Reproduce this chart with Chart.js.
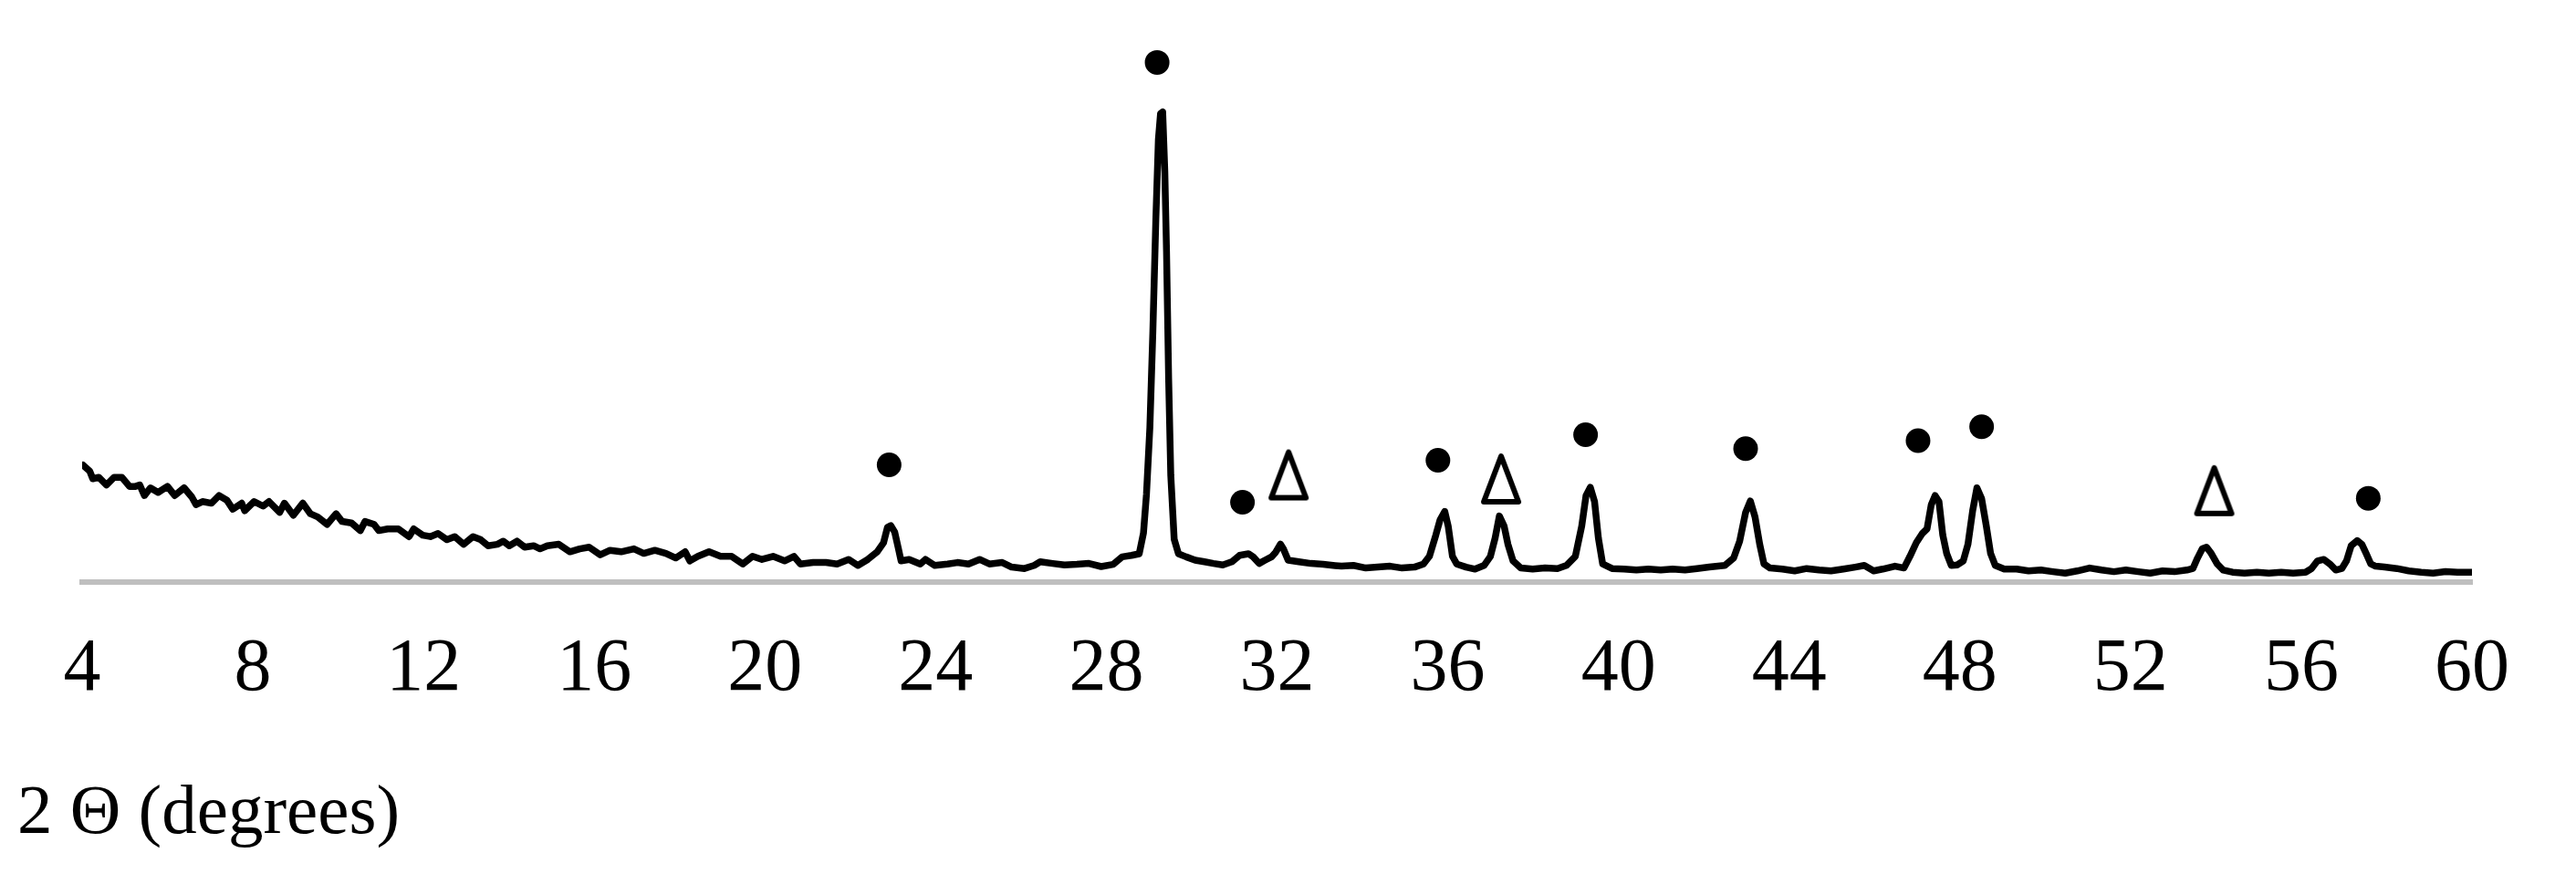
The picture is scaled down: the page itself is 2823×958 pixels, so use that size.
<!DOCTYPE html>
<html>
<head>
<meta charset="utf-8">
<title>XRD pattern</title>
<script src="https://cdn.jsdelivr.net/npm/chart.js@4.4.1/dist/chart.umd.min.js"></script>
<style>
  html, body { margin: 0; padding: 0; background: #fff; }
  #wrap { width: 2823px; height: 958px; }
</style>
</head>
<body>
<div id="wrap"><canvas id="xrd" width="2823" height="958"></canvas></div>
<script>
// 2 theta (degrees) and intensity (counts)
const twoTheta = [
  4.02, 4.18, 4.25, 4.39, 4.57, 4.75, 4.93, 5.11, 5.25, 5.35, 5.46, 5.60, 5.78, 6.00, 6.17, 6.39, 6.57, 6.67, 6.82, 7.03,
  7.21, 7.39, 7.53, 7.74, 7.81, 8.03, 8.24, 8.38, 8.63, 8.74, 8.95, 9.17, 9.35, 9.52, 9.74, 9.95, 10.09, 10.31, 10.52, 10.63,
  10.84, 10.95, 11.16, 11.41, 11.66, 11.77, 11.98, 12.16, 12.34, 12.55, 12.73, 12.94, 13.16, 13.34, 13.51, 13.73, 13.87, 14.01, 14.19, 14.37,
  14.58, 14.73, 14.90,
  15.17, 15.43, 15.66, 15.88, 16.14, 16.37, 16.63, 16.93, 17.16, 17.42, 17.68, 17.91, 18.13, 18.24, 18.43, 18.69, 18.96, 19.22, 19.48, 19.71,
  19.93, 20.19, 20.46, 20.68, 20.83, 21.13, 21.43, 21.69, 21.96, 22.18, 22.41, 22.63, 22.78, 22.87, 22.95, 23.04, 23.12, 23.19, 23.38, 23.64,
  23.76, 23.98, 24.28, 24.51, 24.77, 25.03, 25.26, 25.56, 25.78, 26.08, 26.31,
  26.45, 26.74, 27.02, 27.31, 27.59, 27.88, 28.16, 28.37, 28.59, 28.77, 28.87, 28.94, 29.02, 29.09, 29.16, 29.22, 29.27, 29.32, 29.37, 29.41,
  29.46, 29.51, 29.59, 29.69, 29.87, 30.08, 30.30, 30.51, 30.73, 30.94, 31.12, 31.33, 31.44, 31.58, 31.72, 31.87, 31.97, 32.08, 32.15, 32.26,
  32.51, 32.79, 33.08, 33.36,
  33.51, 33.79, 34.08, 34.36, 34.65, 34.93, 35.22, 35.43, 35.57, 35.72, 35.82, 35.93, 36.01, 36.11, 36.21, 36.43, 36.64, 36.85, 37.00, 37.11,
  37.21, 37.32, 37.41, 37.53, 37.71, 37.99, 38.28, 38.57, 38.78, 38.99, 39.14, 39.24, 39.34, 39.44, 39.53, 39.63, 39.85, 40.13, 40.42, 40.70,
  40.99, 41.27, 41.56, 41.84, 42.13, 42.49, 42.70, 42.84, 42.98, 43.09, 43.20, 43.31, 43.41, 43.55,
  43.84, 44.13, 44.41, 44.70, 44.98, 45.27, 45.55, 45.76, 45.98, 46.19, 46.48, 46.69, 46.83, 46.98, 47.12, 47.23, 47.33, 47.42, 47.51, 47.60,
  47.69, 47.80, 47.94, 48.08, 48.19, 48.30, 48.40, 48.51, 48.62, 48.72, 48.83, 49.04, 49.33, 49.61, 49.90, 50.18, 50.47, 50.75, 51.04, 51.32,
  51.61, 51.89, 52.18, 52.46, 52.75, 53.03, 53.32,
  53.46, 53.57, 53.68, 53.78, 53.89, 54.03, 54.17, 54.39, 54.67, 54.96, 55.24, 55.53, 55.81, 56.10, 56.24, 56.38, 56.53, 56.67, 56.81, 56.95,
  57.06, 57.17, 57.31, 57.42, 57.52, 57.63, 57.74, 57.95, 58.24, 58.52, 58.81, 59.09, 59.38, 59.66, 60.00
];
const intensity = [
  642, 608, 567, 575, 533, 575, 575, 525, 525, 533, 475, 517, 492, 525, 475, 517, 467, 425, 442, 433,
  475, 450, 400, 433, 392, 442, 417, 442, 383, 433, 367, 433, 375, 358, 317, 375, 333, 325, 283, 333,
  317, 283, 292, 292, 250, 292, 258, 250, 267, 233, 250, 208, 250, 233, 200, 208, 225, 200, 225, 192,
  200, 183, 200,
  208, 167, 183, 192, 150, 175, 167, 183, 158, 175, 158, 133, 167, 117, 142, 167, 142, 142, 100, 142,
  125, 142, 117, 142, 100, 108, 108, 100, 125, 92, 125, 167, 217, 300, 310, 275, 192, 117, 125, 100,
  125, 92, 100, 108, 100, 125, 100, 108, 83, 75, 92,
  112, 103, 95, 98, 103, 86, 98, 139, 147, 156, 270, 481, 849, 1375, 1989, 2428, 2568, 2577, 2252, 1814,
  1112, 586, 235, 156, 139, 121, 112, 103, 95, 112, 147, 156, 139, 103, 121, 139, 165, 209, 182, 121,
  112, 103, 98, 91,
  88, 92, 78, 83, 88, 78, 83, 100, 142, 258, 342, 388, 308, 142, 100, 83, 72, 92, 142, 242,
  363, 308, 208, 117, 78, 72, 78, 75, 92, 142, 308, 475, 520, 442, 242, 100, 75, 72, 67, 72,
  67, 72, 67, 75, 83, 92, 133, 225, 383, 445, 358, 208, 100, 78,
  72, 62, 75, 67, 62, 72, 83, 92, 62, 72, 88, 78, 142, 217, 267, 292, 425, 475, 442, 258,
  158, 92, 95, 117, 208, 392, 517, 458, 308, 158, 92, 72, 72, 62, 67, 58, 50, 62, 78, 67,
  58, 67, 58, 50, 62, 58, 67,
  75, 133, 183, 192, 158, 100, 67, 55, 50, 55, 50, 55, 50, 55, 75, 117, 125, 100, 67, 75,
  117, 200, 228, 208, 158, 100, 88, 83, 75, 62, 55, 50, 58, 55, 55
];

// phase markers above the peaks
const circleX = [22.91, 29.19, 31.19, 35.77, 39.23, 42.98, 47.02, 48.51, 57.57];
const circleY = [643, 2848, 438, 668, 808, 732, 776, 852, 460];
const deltaX = [32.27, 37.25, 53.96];
const deltaY = [588, 566, 502];

const xTickValues = [4, 8, 12, 16, 20, 24, 28, 32, 36, 40, 44, 48, 52, 56, 60];
const axisTitle = '2 Θ (degrees)';

// open triangle marker (like the Δ sign in the figure)
function makeDelta() {
  const c = document.createElement('canvas');
  c.width = 48; c.height = 58;
  const g = c.getContext('2d');
  g.strokeStyle = '#000';
  g.lineWidth = 6;
  g.lineJoin = 'round';
  g.beginPath();
  g.moveTo(24, 4);
  g.lineTo(43, 54);
  g.lineTo(5, 54);
  g.closePath();
  g.stroke();
  return c;
}

const serif = "'Liberation Serif', 'Times New Roman', serif";

new Chart(document.getElementById('xrd'), {
  type: 'scatter',
  data: {
    datasets: [
      {
        label: 'circles',
        data: circleX.map((x, i) => ({ x: x, y: circleY[i] })),
        pointStyle: 'circle',
        pointRadius: 13.5,
        backgroundColor: '#000',
        borderWidth: 0,
        showLine: false,
        clip: false,
        order: 0
      },
      {
        label: 'deltas',
        data: deltaX.map((x, i) => ({ x: x, y: deltaY[i] })),
        pointStyle: makeDelta(),
        pointRadius: 24,
        showLine: false,
        clip: false,
        order: 1
      },
      {
        label: 'XRD',
        data: twoTheta.map((x, i) => ({ x: x, y: intensity[i] })),
        showLine: true,
        borderColor: '#000',
        borderWidth: 7.5,
        borderJoinStyle: 'round',
        borderCapStyle: 'round',
        tension: 0,
        pointRadius: 0,
        order: 2
      }
    ]
  },
  options: {
    responsive: false,
    animation: false,
    events: [],
    layout: { padding: { left: 19, right: 114, top: 38, bottom: 0 } },
    plugins: {
      legend: { display: false },
      tooltip: { enabled: false },
      title: {
        display: true,
        text: axisTitle,
        position: 'bottom',
        align: 'start',
        color: '#000',
        font: { family: serif, size: 77, weight: 'normal' },
        padding: { top: 16, bottom: 19 }
      }
    },
    scales: {
      x: {
        type: 'linear',
        min: 4,
        max: 60,
        afterBuildTicks: (scale) => { scale.ticks = xTickValues.map(v => ({ value: v })); },
        grid: { display: false, drawTicks: false },
        border: { display: true, color: '#bfbfbf', width: 6 },
        ticks: {
          color: '#000',
          font: { family: serif, size: 82 },
          padding: 47,
          autoSkip: false,
          maxRotation: 0,
          callback: (v) => String(v)
        }
      },
      y: {
        min: 0,
        max: 3000,
        grid: { display: false, drawTicks: false },
        border: { display: false },
        ticks: { display: false },
        afterFit: (scale) => { scale.width = 71; }
      }
    }
  }
});
</script>
</body>
</html>
